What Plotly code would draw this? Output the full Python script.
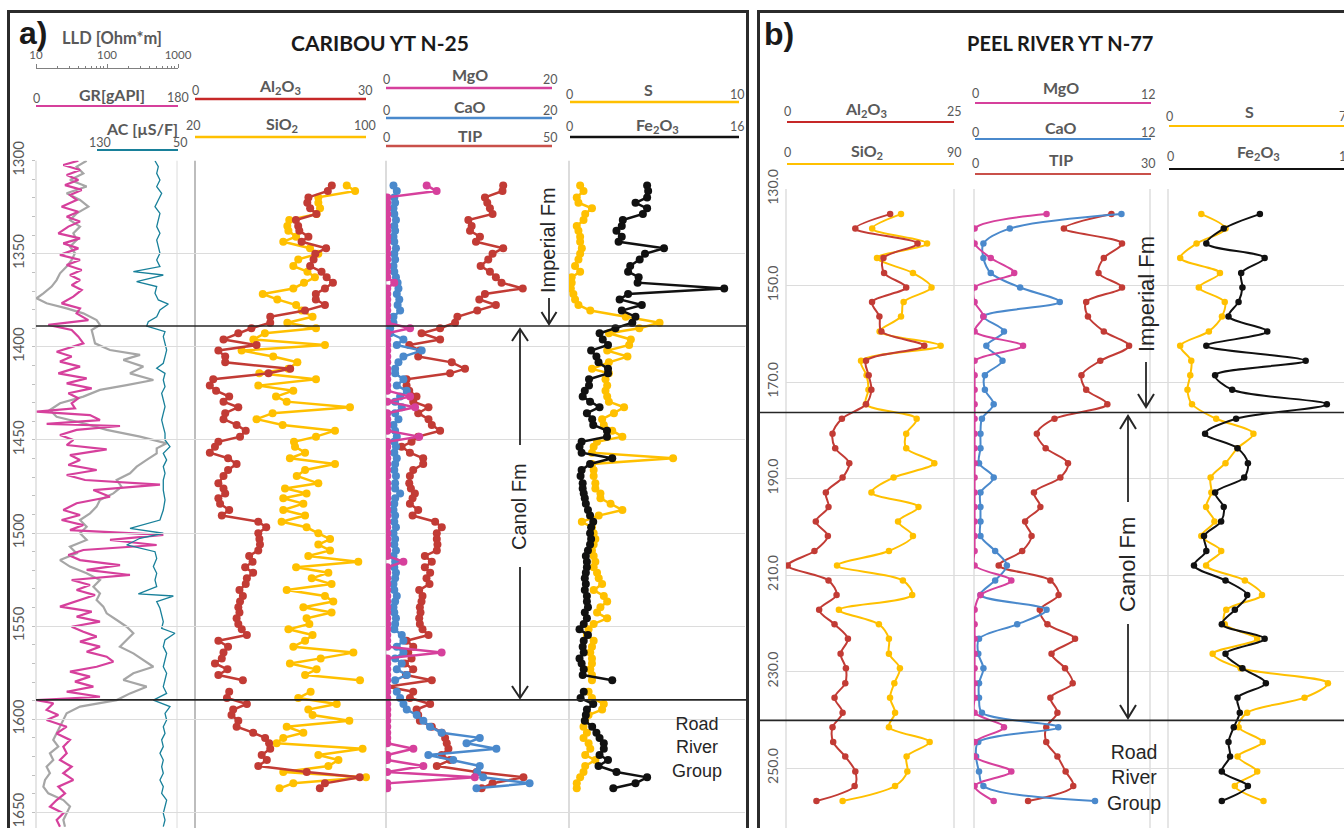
import plotly.graph_objects as go

W, H = 1344, 828
def X(px): return px / W
def Y(py): return 1 - py / H

# ---------------- Panel a) CARIBOU YT N-25 : well logs ----------------
gr_depth = [1300.0, 1302.3, 1305.0, 1307.7, 1310.4, 1313.1, 1315.7, 1318.4, 1321.1, 1324.7,
            1327.4, 1330.1, 1332.7, 1335.4, 1339.0, 1341.7, 1344.4, 1347.1, 1350.6, 1353.3,
            1356.0, 1358.7, 1361.4, 1364.1, 1366.8, 1369.4, 1373.0, 1376.6, 1379.3, 1382.0,
            1385.6, 1388.2, 1390.9, 1394.5, 1398.1, 1402.6, 1405.2, 1407.9, 1410.6, 1414.2,
            1416.9, 1419.6, 1422.3, 1424.9, 1427.6, 1430.3, 1433.0, 1434.8, 1436.6, 1439.3,
            1441.4, 1442.5, 1444.6, 1447.3, 1450.0, 1452.7, 1455.0, 1458.1, 1460.7, 1463.4,
            1466.1, 1468.8, 1471.5, 1474.0, 1476.9, 1480.5, 1484.0, 1487.6, 1490.3, 1493.0,
            1495.7, 1498.4, 1501.0, 1503.7, 1506.4, 1509.1, 1511.8, 1514.5, 1517.2, 1519.8,
            1522.5, 1525.2, 1527.9, 1530.6, 1533.3, 1535.9, 1539.5, 1542.2, 1544.9, 1547.6,
            1550.3, 1553.0, 1555.6, 1558.3, 1561.0, 1563.7, 1566.4, 1569.1, 1571.8, 1574.4,
            1577.1, 1579.8, 1582.5, 1585.2, 1587.9, 1589.7, 1591.4, 1595.0, 1597.7, 1600.4,
            1604.0, 1607.6, 1611.1, 1614.7, 1618.3, 1621.9, 1625.5, 1629.0, 1632.6, 1636.2,
            1639.8, 1643.4, 1646.9, 1650.5, 1654.1, 1657.7]
gr_api = [53.7, 34.6, 55.8, 38.9, 53.7, 36.8, 57.9, 43.1, 51.5, 32.5,
          53.7, 38.9, 55.8, 41.0, 28.3, 55.8, 34.6, 53.7, 30.4, 55.8,
          38.9, 57.9, 43.1, 55.8, 45.2, 57.9, 47.3, 32.5, 55.8, 51.5,
          66.3, 15.6, 45.2, 53.7, 60.0, 26.2, 45.2, 30.4, 55.8, 28.3,
          64.2, 38.9, 70.6, 41.0, 53.7, 45.2, 49.4, 1.0, 68.4, 81.1,
          13.5, 106.5, 51.5, 30.4, 47.3, 38.9, 89.6, 43.1, 55.8, 41.0,
          76.9, 38.9, 62.1, 157.2, 72.7, 93.8, 51.5, 34.6, 55.8, 32.5,
          60.0, 43.1, 161.4, 93.8, 152.9, 60.0, 41.0, 55.8, 106.5, 64.2,
          119.1, 45.2, 68.4, 51.5, 74.8, 55.8, 30.4, 70.6, 51.5, 81.1,
          45.2, 60.0, 76.9, 55.8, 81.1, 64.2, 89.6, 98.0, 76.9, 43.1,
          68.4, 49.4, 72.7, 38.9, 81.1, 0.8, 22.0, 13.5, 28.3, 13.5,
          38.9, 26.2, 43.1, 34.6, 38.9, 30.4, 45.2, 34.6, 47.3, 28.3,
          36.8, 26.2, 17.7, 34.6, 26.2, 30.4]

lld_depth = [1300.0, 1303.2, 1306.8, 1310.4, 1313.9, 1317.5, 1321.1, 1324.7, 1328.3, 1331.9,
             1335.4, 1339.0, 1342.6, 1346.2, 1349.7, 1353.3, 1356.9, 1360.5, 1364.1, 1367.6,
             1371.2, 1373.9, 1376.6, 1379.3, 1382.0, 1385.6, 1388.2, 1390.9, 1394.5, 1398.1,
             1401.7, 1404.3, 1407.0, 1410.6, 1414.2, 1417.8, 1420.5, 1423.1, 1426.7, 1430.3,
             1433.9, 1437.5, 1441.0, 1444.6, 1448.2, 1451.8, 1454.5, 1457.2, 1460.7, 1464.3,
             1467.9, 1471.5, 1475.1, 1478.7, 1482.2, 1485.8, 1489.4, 1493.0, 1496.6, 1500.1,
             1503.7, 1507.3, 1510.9, 1514.5, 1518.0, 1521.6, 1525.2, 1528.8, 1532.4, 1535.9,
             1539.5, 1543.1, 1546.7, 1550.3, 1553.8, 1557.4, 1561.0, 1564.6, 1568.2, 1571.8,
             1575.3, 1578.9, 1582.5, 1586.1, 1589.7, 1593.2, 1596.8, 1600.4, 1604.0, 1607.6,
             1611.1, 1614.7, 1618.3, 1621.9, 1625.5, 1629.0, 1632.6, 1636.2, 1639.8, 1643.4,
             1646.9, 1650.5, 1654.1, 1657.7]
lld_ohmm = [51.7, 37.4, 46.4, 30.1, 51.7, 27.0, 41.7, 54.6, 37.4, 30.1,
            41.7, 33.6, 37.4, 30.1, 35.4, 31.8, 27.0, 21.8, 19.5, 16.6,
            12.7, 10.2, 14.1, 27.0, 46.4, 71.4, 79.6, 60.8, 64.3, 67.8,
            110, 292, 170, 325, 211, 450, 189, 79.6, 46.4, 21.8,
            15.7, 19.5, 46.4, 98.9, 292, 692, 501, 501, 362, 262,
            211, 137, 160, 123, 79.6, 71.4, 57.7, 41.7, 51.7, 41.7,
            51.7, 30.1, 37.4, 21.8, 30.1, 51.7, 79.6, 64.3, 79.6, 71.4,
            88.7, 98.9, 137, 189, 235, 189, 152, 235, 325, 450,
            235, 170, 362, 211, 137, 41.7, 27.0, 24.3, 21.8, 19.5,
            17.5, 20.6, 15.7, 17.5, 14.1, 15.7, 13.4, 12.7, 14.9, 24.3,
            30.1, 27.0, 24.3, 25.6]

ac_depth = [1300.0, 1303.2, 1306.8, 1310.4, 1313.9, 1317.5, 1321.1, 1324.7, 1328.3, 1331.9,
            1335.4, 1339.0, 1342.6, 1346.2, 1349.7, 1353.3, 1356.9, 1359.6, 1361.4, 1365.0,
            1367.6, 1371.2, 1374.8, 1377.0, 1380.2, 1383.8, 1386.5, 1388.8, 1391.8, 1394.5,
            1398.1, 1401.7, 1405.2, 1408.8, 1411.5, 1414.2, 1417.8, 1421.4, 1424.9, 1428.5,
            1432.1, 1435.7, 1439.3, 1442.8, 1446.4, 1450.0, 1453.6, 1457.2, 1460.7, 1464.3,
            1467.9, 1471.5, 1476.9, 1482.2, 1487.6, 1493.0, 1497.5, 1500.1, 1502.8, 1506.4,
            1510.0, 1513.6, 1518.0, 1521.6, 1525.2, 1528.8, 1532.7, 1533.8, 1536.8, 1540.4,
            1544.0, 1547.6, 1551.2, 1553.8, 1557.4, 1561.0, 1564.6, 1568.2, 1571.8, 1575.3,
            1578.9, 1582.5, 1586.1, 1589.7, 1593.2, 1596.8, 1600.4, 1604.0, 1607.6, 1611.1,
            1614.7, 1618.3, 1621.9, 1625.5, 1629.0, 1632.6, 1636.2, 1639.8, 1643.4, 1646.9,
            1650.5, 1654.1, 1657.7]
ac_usf = [72.7, 69.4, 71.0, 67.8, 71.0, 66.1, 69.4, 72.7, 67.8, 69.4,
          71.0, 67.8, 71.0, 69.4, 67.8, 71.0, 67.8, 94.0, 64.5, 90.8,
          71.0, 72.7, 69.4, 59.5, 67.8, 71.0, 79.3, 80.9, 62.8, 64.5,
          62.8, 61.2, 62.8, 64.5, 71.0, 62.8, 64.5, 62.8, 66.1, 64.5,
          62.8, 64.5, 66.1, 64.5, 62.8, 62.8, 57.9, 64.5, 61.2, 64.5,
          62.8, 64.5, 64.5, 62.8, 64.5, 67.8, 97.3, 64.5, 87.5, 100.6,
          72.7, 71.0, 74.3, 71.0, 72.7, 71.0, 89.1, 54.6, 71.0, 67.8,
          66.1, 64.5, 66.1, 53.0, 62.8, 64.5, 61.2, 62.8, 64.5, 61.2,
          62.8, 64.5, 61.2, 74.3, 57.9, 62.8, 61.2, 64.5, 62.8, 66.1,
          64.5, 67.8, 64.5, 66.1, 64.5, 67.8, 64.5, 66.1, 61.2, 62.8,
          64.5, 62.8, 64.5]

# ---------------- Panel a) geochemistry ----------------
depth_a = [1313.3, 1316.3, 1319.7, 1322.6, 1325.6, 1328.6, 1331.9, 1335.1, 1337.6, 1340.8,
           1343.5, 1347.0, 1350.0, 1353.0, 1356.6, 1359.6, 1362.6, 1365.5, 1368.6, 1371.6,
           1374.5, 1377.5, 1380.5, 1383.8, 1387.0, 1390.0, 1392.7, 1396.0, 1399.0, 1402.0,
           1405.2, 1408.3, 1411.8, 1414.2, 1417.4, 1420.8, 1423.5, 1426.7, 1429.4, 1432.4,
           1435.6, 1438.8, 1441.9, 1445.0, 1448.2, 1451.0, 1453.6, 1456.8, 1459.8, 1462.9,
           1466.1, 1469.3, 1473.3, 1476.0, 1478.7, 1481.3, 1484.2, 1487.6, 1490.6, 1493.9,
           1496.9, 1500.1, 1503.2, 1506.2, 1509.3, 1512.3, 1515.4, 1518.4, 1521.3, 1524.3,
           1527.4, 1530.6, 1533.8, 1536.8, 1539.8, 1542.7, 1545.8, 1548.8, 1551.7, 1554.7,
           1557.8, 1561.0, 1564.2, 1567.3, 1570.0, 1573.2, 1576.2, 1579.0, 1582.5, 1585.2,
           1588.6, 1591.8, 1594.8, 1597.7, 1600.8, 1604.0, 1607.2, 1610.0, 1612.9, 1615.8,
           1619.2, 1621.9, 1625.1, 1628.3, 1631.2, 1634.4, 1637.1]
al2o3_a = [24.0, 23.3, 19.9, 19.7, 20.2, 21.3, 17.7, 18.1, 18.3, 19.9,
           18.7, 23.0, 21.1, 20.8, 20.2, 22.2, 23.1, 24.2, 22.8, 21.2,
           21.2, 22.8, 19.3, 13.2, 13.2, 9.9, 7.6, 5.0, 10.8, 4.1,
           5.3, 5.3, 16.7, 12.9, 3.2, 2.6, 3.7, 6.0, 5.0, 7.6,
           5.3, 5.0, 7.3, 8.9, 7.9, 4.1, 3.5, 2.6, 5.8, 7.3,
           5.8, 5.0, 4.1, 5.0, 5.3, 4.1, 4.4, 6.0, 4.7, 11.1,
           12.5, 11.1, 11.3, 11.4, 11.1, 9.5, 10.1, 8.8, 10.2, 9.1,
           8.9, 7.8, 8.4, 7.9, 7.6, 7.8, 7.3, 7.6, 8.2, 9.1,
           4.1, 5.8, 5.0, 4.7, 3.5, 5.7, 4.1, 8.4, None, 6.0,
           5.6, 9.1, 6.7, 6.4, 7.6, 7.3, 10.2, 12.3, 13.0, 13.2,
           11.7, 12.6, 11.1, 19.6, 28.9, 22.8, 21.9]
sio2_a = [91.0, 94.9, 77.7, 77.7, 78.5, 76.9, 64.1, 63.2, 63.7, 67.3,
          61.3, 73.8, 77.7, 68.3, 66.0, 72.6, 76.1, 71.0, 66.0, 51.7,
          58.5, 67.3, 69.9, 75.0, 63.2, 76.6, 52.7, 47.3, 80.8, 41.8,
          56.6, 67.9, 63.7, 50.1, 76.6, 49.6, 66.0, 57.9, 62.9, 92.5,
          56.3, 48.8, 61.0, 85.5, 76.6, 66.3, 66.8, 71.5, 64.4, 85.5,
          71.5, 67.6, 77.7, 62.1, 72.2, 61.3, 70.7, 61.3, 71.5, 60.5,
          72.2, 77.7, 83.2, 77.7, 83.2, 73.0, 96.4, 67.3, 82.4, 74.6,
          83.9, 62.9, 80.8, 84.7, 70.7, 83.9, 72.2, 73.5, 63.7, 75.0,
          71.5, 66.0, 94.1, 78.8, 64.4, 76.9, 71.5, 97.2, None, 74.1,
          68.3, 86.3, 73.0, 75.0, 92.2, 62.9, 70.7, 61.3, 58.2, 98.4,
          77.7, 87.1, 82.4, 61.3, 100.0, 66.0, 59.5]
mgo_a = [4.9, 6.1, 0.15, 0.15, 0.15, 0.15, 0.15, 0.15, 0.15, 0.15,
         0.15, 0.15, 0.15, 0.15, 0.15, 0.15, 0.15, 1.0, 0.15, 0.15,
         0.15, 0.15, 0.15, 0.15, 0.15, 2.9, 0.15, 0.15, 0.15, 0.15,
         0.15, 0.15, 0.15, 0.15, 0.15, 0.15, 0.15, 2.9, 0.15, 3.5,
         0.15, 0.15, 0.15, 0.15, 4.0, 0.15, 0.15, 0.15, 0.15, 0.15,
         0.15, 0.15, 0.15, 0.15, 0.15, 0.15, 0.15, 0.15, 0.15, 0.15,
         0.15, 0.15, 0.15, 0.15, 0.15, 0.15, 2.1, 0.15, 0.15, 0.15,
         0.15, 0.15, 0.15, 0.15, 0.15, 0.15, 0.15, 0.15, 0.15, 0.15,
         0.15, 0.15, 6.7, 0.15, 0.15, 0.15, 0.15, 0.15, 0.15, 0.15,
         0.15, 0.15, 0.15, 0.15, 0.15, 0.15, 0.15, 0.15, 0.15, 3.3,
         0.15, 0.15, 4.5, 0.15, 10.7, 0.15, 0.15]
cao_a = [0.9, 1.3, 1.0, 1.1, 0.9, 1.0, 1.2, 1.0, 1.1, 0.9,
         1.0, 1.2, 1.0, 1.1, 0.9, 1.0, 1.2, 1.4, 1.5, 1.3,
         1.6, 1.4, 1.7, 0.9, 0.9, 0.5, 0.5, 2.1, 1.3, 4.3,
         2.1, 1.5, 1.1, 1.1, 2.1, 1.3, 2.5, 1.7, 1.1, 1.9,
         1.1, 1.5, 0.9, 1.1, 1.3, 1.0, 1.2, 1.0, 1.3, 1.1,
         1.0, 1.2, 1.1, 1.1, 1.7, 1.1, 1.0, 0.9, 1.1, 1.0,
         1.2, 0.9, 1.1, 1.0, 1.2, 0.9, 1.1, 1.0, 1.2, 1.1,
         0.9, 1.0, 1.3, 1.1, 0.9, 1.0, 1.2, 1.1, 1.0, 1.9,
         2.1, 1.3, 2.1, 1.1, 1.9, 1.3, 2.5, 1.1, None, 1.3,
         1.7, 2.1, 2.5, 3.7, 4.5, 5.3, 6.7, 11.3, 9.7, 13.3,
         5.1, 8.1, 11.3, 11.0, 11.7, 17.3, 10.9]
tip_a = [35.3, 35.1, 29.8, 30.5, 31.3, 32.1, 24.8, 25.8, 25.3, 28.3,
         27.1, 35.3, 32.1, 30.8, 28.5, 31.3, 33.1, 34.8, 41.2, 29.8,
         28.1, 33.1, 27.5, 21.5, 20.8, 16.3, 10.7, 16.3, 7.0, 10.2,
         9.7, 19.8, 23.8, 19.3, 6.2, 6.2, 7.0, 9.2, 8.2, 12.8,
         9.7, 12.8, 13.8, 16.3, 9.7, 7.7, 4.7, 7.2, 11.2, 11.2,
         8.2, 7.2, 7.0, 7.5, 8.7, 8.0, 7.2, 9.7, 8.0, 14.8,
         16.8, 15.3, 15.3, 15.5, 15.3, 11.7, 13.8, 11.7, 13.3, 12.2,
         13.1, 10.0, 11.0, 10.7, 10.2, 10.4, 10.0, 10.2, 11.0, 12.8,
         6.2, 8.2, 6.7, 7.7, 5.7, 8.2, 6.0, 13.8, 0.3, 8.2,
         7.2, 13.3, 9.2, 9.7, 10.2, 13.8, 16.8, 17.8, 18.3, 18.8,
         16.8, 19.3, 15.3, 27.3, 41.4, 32.1, 28.8]
s_a = [0.6, 0.8, 0.4, 0.5, 1.3, 0.9, 0.8, 0.4, 0.5, 0.6,
       0.6, 0.7, 0.6, 0.5, 0.3, 0.6, 0.1, 0.1, 0.05, 0.2,
       0.3, 0.5, 1.2, 3.3, 5.3, 4.1, 2.3, 3.6, 3.5, 2.2,
       3.4, 2.3, 1.3, 2.3, 2.1, 2.2, 2.1, 2.2, 2.3, 3.2,
       2.6, 1.9, 2.0, 2.5, 3.1, 1.6, 1.4, 1.3, 6.1, 1.3,
       1.4, 1.4, 1.5, 1.5, 1.8, 1.8, 2.4, 3.1, 1.7, 0.7,
       1.3, 1.4, 1.5, 1.4, 1.3, 1.4, 1.5, 1.4, 1.6, 1.7,
       1.9, 1.4, 2.0, 2.2, 1.8, 1.6, 2.2, 1.4, 1.1, 1.0,
       1.4, 1.3, 1.2, 1.3, 1.3, 1.2, 1.3, 1.3, None, 1.1,
       1.3, 2.0, 1.9, 1.1, 0.9, 0.8, 1.0, 0.8, 1.1, 1.2,
       0.9, 1.5, 0.9, 0.8, 0.6, 0.4, 0.4]
fe2o3_a = [7.3, 7.4, 7.3, 6.2, 7.3, 6.9, 5.0, 4.9, 4.4, 4.9,
           4.6, 8.9, 7.1, 6.6, 5.7, 5.5, 6.5, 6.4, 14.6, 5.5,
           4.7, 6.8, 4.9, 6.2, 5.9, 4.3, 2.8, 3.1, 3.6, 2.0,
           2.5, 2.7, 3.6, 3.6, 1.8, 1.8, 1.4, 1.2, 1.9, 2.8,
           1.6, 2.1, 2.2, 3.5, 3.5, 1.1, 0.9, 1.1, 4.0, 1.9,
           1.1, 1.0, 1.2, 1.2, 1.3, 1.4, 1.5, 1.7, 1.9, 2.2,
           2.0, 1.9, 2.0, 1.9, 1.7, 1.5, 1.6, 1.6, 1.5, 1.4,
           1.5, 1.4, 1.6, 1.6, 1.7, 1.4, 1.6, 1.3, 0.9, 1.7,
           1.3, 1.2, 1.3, 0.9, 1.1, 1.3, 1.2, 4.0, None, 1.3,
           1.0, 2.2, 1.6, 1.5, 1.4, 2.1, 2.5, 2.8, 3.2, 3.2,
           2.8, 3.6, 2.7, 4.4, 7.3, 6.2, 4.1]

# ---------------- Panel b) PEEL RIVER YT N-77 ----------------
depth_b = [135.2, 138.2, 141.3, 144.3, 147.4, 150.4, 153.4, 156.4, 159.5, 162.5,
           165.6, 168.6, 171.6, 174.6, 177.6, 180.7, 183.7, 186.8, 189.8, 192.9,
           195.9, 198.9, 201.9, 205.0, 208.0, 211.1, 214.1, 217.2, 220.2, 223.2,
           226.3, 229.3, 232.4, 235.4, 238.5, 241.5, 244.6, 247.6, 250.7, 253.7, 256.8]
al2o3_b = [15.4, 10.2, 19.5, 14.4, 14.5, 17.8, 12.7, 13.8, 14.1, 20.5,
           11.8, 12.2, 12.6, 11.8, 8.2, 6.8, 7.2, 9.3, 8.3, 5.8,
           6.2, 4.3, 6.1, 4.1, 0.1, 6.2, 7.4, 4.8, 7.1, 9.1,
           8.0, 8.8, 8.7, 7.1, 8.3, 6.8, 6.9, 8.7, 10.2, 10.1, 4.4]
sio2_b = [61.3, 45.8, 75.3, 48.4, 67.7, 77.7, 62.7, 61.3, 49.8, 82.6,
          39.8, 42.8, 43.8, 42.4, 69.7, 64.1, 64.1, 79.2, 57.3, 45.4,
          70.7, 59.7, 67.7, 54.8, 26.9, 62.3, 67.3, 27.9, 49.4, 54.8,
          54.8, 60.7, 57.7, 55.4, 58.1, 54.8, 76.7, 64.3, 64.7, 58.1, 29.9]
mgo_b = [4.9, 0.0, 0.0, 1.1, 2.7, 0.0, 0.0, 0.6, 0.0, 3.3,
         0.0, 0.0, 0.0, 0.0, 0.0, 0.0, 0.0, 0.0, 0.0, 0.0,
         0.0, 0.0, 0.0, 0.0, 0.0, 2.5, 0.4, 0.0, 0.0, 0.0,
         0.0, 0.0, 0.0, 0.0, 0.0, 2.0, 0.0, 0.0, 2.5, 0.0, 1.3]
cao_b = [10.0, 2.4, 0.6, 0.6, 1.1, 3.1, 5.8, 0.6, 2.0, 0.8,
         1.9, 0.7, 0.7, 1.3, 0.5, 0.4, 0.4, 0.3, 1.3, 0.4,
         0.4, 0.4, 0.4, 1.4, 2.2, 1.4, 0.4, 4.9, 2.9, 0.3,
         0.25, 0.6, 0.3, 0.3, 0.5, 5.7, 0.25, 0.1, 0.3, 0.6, 8.2]
tip_b = [23.3, 15.2, 25.1, 22.0, 21.1, 25.1, 19.0, 19.3, 22.0, 26.3,
         21.4, 18.2, 19.0, 22.6, 13.6, 10.6, 12.1, 15.9, 14.6, 10.1,
         11.2, 8.6, 9.7, 8.1, 4.1, 12.9, 14.3, 11.1, 12.4, 17.1,
         13.1, 15.4, 16.7, 12.9, 14.1, 12.2, 12.2, 14.1, 15.5, 16.8, 9.1]
s_b = [1.30, 2.26, 1.11, 0.46, 2.04, 1.20, 2.23, 2.12, 1.60, 0.46,
       0.90, 0.86, 0.75, 0.93, 1.89, 3.37, 2.74, 2.26, 1.67, 1.70,
       1.49, 1.82, 1.30, 2.09, 1.49, 3.03, 3.71, 2.29, 2.23, 3.52,
       1.75, 2.86, 6.33, 5.40, 3.12, 2.78, 3.74, 2.74, 3.52, 2.63, 3.77]
fe2o3_b = [5.18, 3.13, 2.14, 5.45, 4.12, 4.19, 3.97, 3.40, 5.60, 2.14,
           7.78, 2.64, 3.61, 8.98, 3.83, 2.07, 3.91, 4.50, 4.29, 2.64,
           3.13, 2.98, 2.01, 2.14, 1.44, 3.23, 4.46, 3.76, 3.02, 5.45,
           3.23, 4.19, 5.52, 3.91, 4.04, 3.70, 3.40, 3.49, 3.02, 4.50, 3.02]

# formation boundaries (depth)
bounds_a = [1388.8, 1589.6]
bounds_b = [176.3, 240.1]

# LLD scale ruler ticks
lld_major = [10, 100, 1000]
lld_minor = [20, 30, 40, 50, 60, 70, 80, 90, 200, 300, 400, 500, 600, 700, 800, 900]

# ---------------- styles ----------------
C_RED = '#c23b35'
C_YEL = '#ffc000'
C_PINK = '#d6409c'
C_BLUE = '#4a89cc'
C_BLK = '#111111'
C_GRAY = '#a6a6a6'
C_TEAL = '#18809a'
TXT = '#595959'

fig = go.Figure()

def add(x, y, xa, ya, color, mode='lines+markers', size=8, width=2.5, shape='linear'):
    fig.add_trace(go.Scatter(x=x, y=y, xaxis=xa, yaxis=ya, mode=mode,
                             line=dict(color=color, width=width, shape=shape, smoothing=0.9),
                             marker=dict(color=color, size=size),
                             connectgaps=False, hoverinfo='skip', showlegend=False))

# panel a logs
add(lld_ohmm, lld_depth, 'x', 'y', C_GRAY, mode='lines', width=2.2)
add(gr_api, gr_depth, 'x2', 'y', C_PINK, mode='lines', width=2.2)
add(ac_usf, ac_depth, 'x3', 'y', C_TEAL, mode='lines', width=1.3)
# panel a chemistry
add(sio2_a, depth_a, 'x4', 'y', C_YEL)
add(al2o3_a, depth_a, 'x5', 'y', C_RED)
add(tip_a, depth_a, 'x6', 'y', C_RED)
add(cao_a, depth_a, 'x7', 'y', C_BLUE)
add(mgo_a, depth_a, 'x7', 'y', C_PINK)
add(s_a, depth_a, 'x8', 'y', C_YEL)
add(fe2o3_a, depth_a, 'x9', 'y', C_BLK)
# panel b
add(sio2_b, depth_b, 'x10', 'y2', C_YEL, size=6.5, width=2, shape='spline')
add(al2o3_b, depth_b, 'x11', 'y2', C_RED, size=6.5, width=2, shape='spline')
add(tip_b, depth_b, 'x12', 'y2', C_RED, size=6.5, width=2, shape='spline')
add(cao_b, depth_b, 'x13', 'y2', C_BLUE, size=6.5, width=2, shape='spline')
add(mgo_b, depth_b, 'x13', 'y2', C_PINK, size=6.5, width=2, shape='spline')
add(s_b, depth_b, 'x14', 'y2', C_YEL, size=6.5, width=2, shape='spline')
add(fe2o3_b, depth_b, 'x15', 'y2', C_BLK, size=6.5, width=2, shape='spline')
# LLD scale ruler axis
fig.add_trace(go.Scatter(x=[], y=[], xaxis='x16', yaxis='y', showlegend=False, hoverinfo='skip'))

def hax(px0, px1, rng, typ='linear', overlay=None, anchor='y'):
    d = dict(domain=[X(px0), X(px1)], range=rng, type=typ, visible=False, automargin=False,
             anchor=anchor, fixedrange=True, showgrid=False, zeroline=False)
    if overlay:
        d['overlaying'] = overlay
    return d

layout = dict(
    width=W, height=H, margin=dict(l=0, r=0, t=0, b=0, pad=0, autoexpand=False),
    paper_bgcolor='white', plot_bgcolor='rgba(0,0,0,0)', showlegend=False,
    xaxis=hax(36, 195, [1, 1 + 2 * 159 / 142], typ='log'),
    xaxis2=hax(36, 195, [0, 180 * 159 / 142], overlay='x'),
    xaxis3=hax(36, 195, [190, 190 - 140 * 159 / 142], overlay='x'),
    xaxis4=hax(195, 386, [20, 20 + 80 * 191 / 171]),
    xaxis5=hax(195, 386, [0, 30 * 191 / 171], overlay='x4'),
    xaxis6=hax(386, 569, [0, 50 * 183 / 166]),
    xaxis7=hax(386, 569, [0, 20 * 183 / 166], overlay='x6'),
    xaxis8=hax(569, 745, [-10 / 169, 10 * 175 / 169]),
    xaxis9=hax(569, 745, [-16 / 169, 16 * 175 / 169], overlay='x8'),
    xaxis10=hax(786, 974, [-90 * 1 / 167.4, 90 * 187 / 167.4], anchor='y2'),
    xaxis11=hax(786, 974, [-25 * 1 / 167.4, 25 * 187 / 167.4], overlay='x10', anchor='y2'),
    xaxis12=hax(974, 1168, [-30 * 0.6 / 176.2, 30 * 193.4 / 176.2], anchor='y2'),
    xaxis13=hax(974, 1168, [-12 * 0.6 / 176.2, 12 * 193.4 / 176.2], overlay='x12', anchor='y2'),
    xaxis14=hax(1168, 1344, [-7 * 0.6 / 176.2, 7 * 175.4 / 176.2], anchor='y2'),
    xaxis15=hax(1168, 1344, [-10 * 0.6 / 176.2, 10 * 175.4 / 176.2], overlay='x14', anchor='y2'),
    xaxis16=dict(domain=[X(36), X(178)], type='log', range=[1, 3], anchor='free', position=Y(68),
                 side='top', showline=True, linecolor='#808080', linewidth=1, automargin=False,
                 ticks='outside', ticklen=4, tickcolor='#808080', tickwidth=1,
                 tickvals=lld_major, ticktext=[str(v) for v in lld_major],
                 minor=dict(tickvals=lld_minor, ticks='outside', ticklen=2.5, tickcolor='#808080', showgrid=False),
                 tickfont=dict(family='Lato', size=11.5, color=TXT),
                 showgrid=False, zeroline=False, fixedrange=True),
    yaxis=dict(domain=[0, Y(160.7)], range=[1658.4, 1300], anchor='x', automargin=False,
               showgrid=True, gridcolor='#dcdcdc', gridwidth=1,
               tick0=1300, dtick=50, tickangle=-90,
               tickfont=dict(family='Lato', size=15, color=TXT),
               ticks='outside', ticklen=3, tickcolor='#bfbfbf',
               minor=dict(tick0=1300, dtick=10, ticks='outside', ticklen=3, tickcolor='#bfbfbf', showgrid=False),
               zeroline=False, showline=False, fixedrange=True, ticklabelstandoff=2),
    yaxis2=dict(domain=[0, Y(189)], range=[262.4, 130], anchor='x10', automargin=False,
                showgrid=True, gridcolor='#dcdcdc', gridwidth=1,
                tick0=130, dtick=20, tickformat='.1f', tickangle=-90,
                tickfont=dict(family='Lato', size=14, color=TXT),
                ticks='', zeroline=False, showline=False, fixedrange=True, ticklabelstandoff=4),
)
fig.update_layout(**layout)

shapes = []
def pline(x0, y0, x1, y1, color, width, layer='above'):
    shapes.append(dict(type='line', xref='paper', yref='paper', x0=X(x0), y0=Y(y0), x1=X(x1), y1=Y(y1),
                       line=dict(color=color, width=width), layer=layer))

# track frame lines
for px, col, w in [(36, '#d4d4d4', 1.2), (177, '#dcdcdc', 1), (195, '#bdbdbd', 2), (386, '#d0d0d0', 1.5), (569, '#d0d0d0', 1.5)]:
    pline(px, 160.7, px, 840, col, w, layer='below')
for px in [786, 954, 974, 1150, 1168]:
    pline(px, 189, px, 840, '#d6d6d6', 1.2, layer='below')

# header scale lines (panel a)
pline(36, 106, 178, 106, C_PINK, 2)
pline(97, 150, 178, 150, C_TEAL, 2)
pline(195, 99, 366, 99, '#c62828', 2.5)
pline(195, 137, 366, 137, C_YEL, 2.5)
pline(386, 88, 552, 88, C_PINK, 2.5)
pline(386, 118, 552, 118, C_BLUE, 2.5)
pline(386, 146, 552, 146, '#c9504a', 2.5)
pline(570, 102, 739, 102, C_YEL, 2.5)
pline(570, 137, 739, 137, C_BLK, 2.5)
# header scale lines (panel b)
pline(787, 122, 954, 122, '#c62828', 2.2)
pline(787, 164, 954, 164, C_YEL, 2.2)
pline(975, 103, 1151, 103, C_PINK, 2.2)
pline(975, 139, 1151, 139, C_BLUE, 2.2)
pline(975, 174, 1151, 174, '#c9504a', 2.2)
pline(1169, 126, 1346, 126, C_YEL, 2.2)
pline(1169, 169, 1346, 169, C_BLK, 2.2)

# formation boundaries (data depth)
for d in bounds_a:
    shapes.append(dict(type='line', xref='paper', yref='y', x0=X(36), x1=X(748), y0=d, y1=d,
                       line=dict(color='#262626', width=1.6)))
for d in bounds_b:
    shapes.append(dict(type='line', xref='paper', yref='y2', x0=X(759), x1=1.0, y0=d, y1=d,
                       line=dict(color='#262626', width=1.6)))

# arrows
def chevron(tx, ty, down=True, hw=8, h=13):
    dy = -h if down else h
    shapes.append(dict(type='path', xref='paper', yref='paper',
                       path=f"M {X(tx - hw)},{Y(ty + dy)} L {X(tx)},{Y(ty)} L {X(tx + hw)},{Y(ty + dy)}",
                       line=dict(color='#262626', width=2)))

pline(549, 298, 549, 324, '#262626', 1.8)
chevron(549, 324, True, 7.5, 12)
pline(520, 329, 520, 445, '#262626', 1.8)
chevron(520, 329, False, 8, 12)
pline(520, 567, 520, 698, '#262626', 1.8)
chevron(520, 698, True, 8, 12)

pline(1146, 362, 1146, 407, '#262626', 1.8)
chevron(1146, 407, True, 8, 13)
pline(1128, 416, 1128, 502, '#262626', 1.8)
chevron(1128, 416, False, 8, 13)
pline(1128, 624, 1128, 718, '#262626', 1.8)
chevron(1128, 718, True, 8, 13)

# panel borders
shapes.append(dict(type='rect', xref='paper', yref='paper', x0=X(8.5), x1=X(747.5), y0=Y(11.5), y1=Y(850),
                   line=dict(color='#2b2b2b', width=3)))
shapes.append(dict(type='rect', xref='paper', yref='paper', x0=X(758.5), x1=X(1370), y0=Y(11.5), y1=Y(850),
                   line=dict(color='#2b2b2b', width=3)))
fig.update_layout(shapes=shapes)

def ann(text, px, py, size, color=TXT, bold=False, family='Lato', angle=0, xanchor='center'):
    fig.add_annotation(text=f'<b>{text}</b>' if bold else text, x=X(px), y=Y(py),
                       xref='paper', yref='paper', showarrow=False, textangle=angle,
                       font=dict(family=family, size=size, color=color),
                       xanchor=xanchor, yanchor='middle')

SANS = 'Liberation Sans, Arial, sans-serif'
NARROW = 'Liberation Sans Narrow, Arial Narrow, Liberation Sans, sans-serif'

# panel a header
ann('a)', 33, 33, 32, '#1a1a1a', True, SANS)
ann('CARIBOU YT N-25', 380, 42, 21, '#1a1a1a', True)
ann('LLD [Ohm*m]', 112, 38, 16.5, TXT, True)
ann('GR[gAPI]', 112, 94, 16, TXT, True)
ann('0', 36, 99, 12.5)
ann('180', 178, 98, 12.5)
ann('AC [µS/F]', 142, 128, 16, TXT, True)
ann('130', 100, 142, 12.5)
ann('50', 180, 142, 12.5)
ann('Al<sub>2</sub>O<sub>3</sub>', 280, 86, 16, TXT, True)
ann('0', 195, 90, 12.5)
ann('30', 365, 90, 12.5)
ann('SiO<sub>2</sub>', 282, 124, 16, TXT, True)
ann('20', 194, 125, 12.5)
ann('100', 365, 125, 12.5)
ann('MgO', 470, 75, 16, TXT, True)
ann('0', 386, 80, 12.5)
ann('20', 550, 80, 12.5)
ann('CaO', 470, 106, 16, TXT, True)
ann('0', 386, 110, 12.5)
ann('20', 550, 110, 12.5)
ann('TIP', 470, 135, 16, TXT, True)
ann('0', 386, 137, 12.5)
ann('50', 550, 137, 12.5)
ann('S', 648, 89, 16, TXT, True)
ann('0', 569, 94, 12.5)
ann('10', 737, 94, 12.5)
ann('Fe<sub>2</sub>O<sub>3</sub>', 657, 125, 16, TXT, True)
ann('0', 569, 126, 12.5)
ann('16', 737, 126, 12.5)

# panel b header
ann('b)', 779, 34, 32, '#1a1a1a', True, SANS)
ann('PEEL RIVER YT N-77', 1060, 43, 20, '#1a1a1a', True)
ann('Al<sub>2</sub>O<sub>3</sub>', 866, 109, 16, TXT, True)
ann('0', 787, 112, 12.5)
ann('25', 954, 112, 12.5)
ann('SiO<sub>2</sub>', 867, 151, 16, TXT, True)
ann('0', 787, 153, 12.5)
ann('90', 954, 153, 12.5)
ann('MgO', 1061, 87, 16, TXT, True)
ann('0', 975, 93, 12.5)
ann('12', 1148, 95, 12.5)
ann('CaO', 1061, 127, 16, TXT, True)
ann('0', 975, 132, 12.5)
ann('12', 1148, 132, 12.5)
ann('TIP', 1061, 160, 16, TXT, True)
ann('0', 975, 163, 12.5)
ann('30', 1148, 163, 12.5)
ann('S', 1249, 112, 16, TXT, True)
ann('0', 1169, 117, 12.5)
ann('7', 1337, 117, 12.5, xanchor='left')
ann('Fe<sub>2</sub>O<sub>3</sub>', 1258, 152, 16, TXT, True)
ann('0', 1170, 157, 12.5)
ann('10', 1337, 157, 12.5, xanchor='left')

# formation labels
ann('Imperial Fm', 548, 240, 20, '#262626', False, SANS, -90)
ann('Canol Fm', 519, 507, 20, '#262626', False, SANS, -90)
ann('Road<br>River<br>Group', 697, 747, 18, '#262626', False, NARROW)
ann('Imperial Fm', 1146, 294, 22, '#262626', False, SANS, -90)
ann('Canol Fm', 1127, 565, 22, '#262626', False, SANS, -90)
ann('Road<br>River<br>Group', 1134, 777, 19.5, '#262626', False, NARROW)

fig.write_html("out.html", config={'displayModeBar': False, 'staticPlot': True},
               post_script="document.body.style.margin='0px';document.body.style.overflow='hidden';")
